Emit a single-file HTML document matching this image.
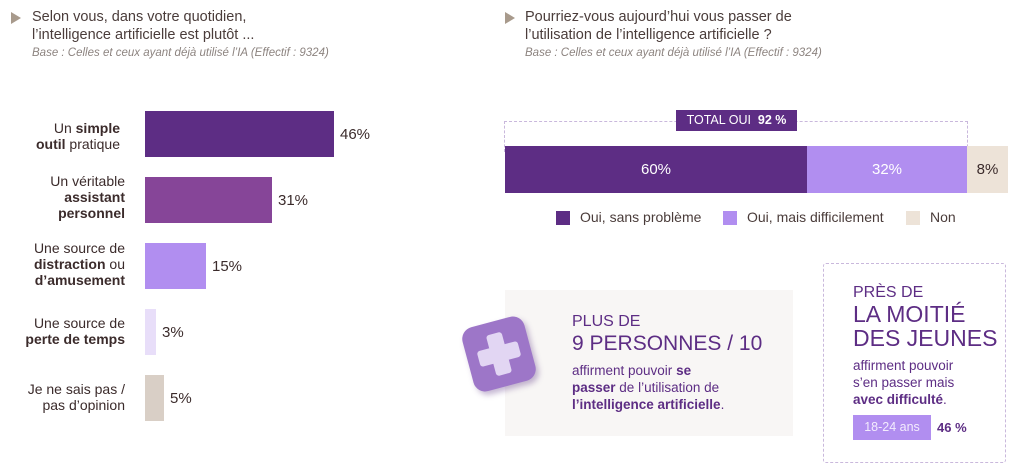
<!DOCTYPE html>
<html><head><meta charset="utf-8"><style>
body{margin:0;width:1024px;height:472px;background:#fff;position:relative;overflow:hidden;font-family:"Liberation Sans",sans-serif;color:#3b2b2b}
.a{position:absolute;white-space:nowrap}
.tri{position:absolute;width:0;height:0;border-left:10px solid #a89a8c;border-top:6px solid transparent;border-bottom:6px solid transparent}
.t{font-size:14.5px;color:#4a3c3a;line-height:18px}
.s{font-size:11.5px;color:#8d8480;font-style:italic}
.lab{font-size:14px;line-height:16px;text-align:right;right:904px;color:#3b2b2b}
.bar{position:absolute;left:145px;height:46px}
.pct{font-size:15px;color:#3b2b2b}
.pu{color:#5d2d84}
</style></head><body>
<div class="tri" style="left:11px;top:12px"></div>
<div class="a t" style="left:32px;top:8px">Selon vous, dans votre quotidien,<br>l’intelligence artificielle est plutôt ...</div>
<div class="a s" style="left:32px;top:47px">Base : Celles et ceux ayant déjà utilisé l’IA (Effectif : 9324)</div>

<div class="bar" style="top:111px;width:189px;background:#5d2d84"></div>
<div class="bar" style="top:177px;width:127px;background:#864598"></div>
<div class="bar" style="top:243px;width:61px;background:#b18ef0"></div>
<div class="bar" style="top:309px;width:11px;background:#e8def9"></div>
<div class="bar" style="top:375px;width:19px;background:#d9cfc6"></div>
<div class="a pct" style="left:340px;top:126px">46%</div>
<div class="a pct" style="left:278px;top:192px">31%</div>
<div class="a pct" style="left:212px;top:258px">15%</div>
<div class="a pct" style="left:162px;top:324px">3%</div>
<div class="a pct" style="left:170px;top:390px">5%</div>
<div class="a lab" style="top:120px">Un <b>simple</b><br><b>outil</b> pratique</div>
<div class="a lab" style="top:173px;right:899px">Un véritable<br><b>assistant</b><br><b>personnel</b></div>
<div class="a lab" style="top:240px;right:899px">Une source de<br><b>distraction</b> ou<br><b>d’amusement</b></div>
<div class="a lab" style="top:315px;right:899px">Une source de<br><b>perte de temps</b></div>
<div class="a lab" style="top:381px;right:899px">Je ne sais pas /<br>pas d’opinion</div>

<div class="tri" style="left:505px;top:12px"></div>
<div class="a t" style="left:525px;top:8px">Pourriez-vous aujourd’hui vous passer de<br>l’utilisation de l’intelligence artificielle ?</div>
<div class="a s" style="left:525px;top:47px">Base : Celles et ceux ayant déjà utilisé l’IA (Effectif : 9324)</div>

<div class="a" style="left:504px;top:121px;width:462px;height:30px;border:1px dashed #c9b8dc;border-bottom:none"></div>
<div class="a" style="left:676px;top:110px;width:121px;height:21px;background:#5d2d84;color:#fff;font-size:12.5px;line-height:21px;text-align:center">TOTAL OUI&nbsp; <b>92 %</b></div>
<div class="a" style="left:505px;top:146px;width:302px;height:47px;background:#5d2d84"></div>
<div class="a" style="left:807px;top:146px;width:160px;height:47px;background:#b18ef0"></div>
<div class="a" style="left:967px;top:146px;width:41px;height:47px;background:#ede3d8"></div>
<div class="a" style="left:505px;top:161px;width:302px;text-align:center;color:#fff;font-size:15px">60%</div>
<div class="a" style="left:807px;top:161px;width:160px;text-align:center;color:#fff;font-size:15px">32%</div>
<div class="a" style="left:967px;top:161px;width:41px;text-align:center;color:#3b2b2b;font-size:15px">8%</div>
<div class="a" style="left:556px;top:211px;width:14px;height:14px;background:#5d2d84"></div>
<div class="a" style="left:580px;top:209px;font-size:14px;color:#4a3c3a">Oui, sans problème</div>
<div class="a" style="left:723px;top:211px;width:14px;height:14px;background:#b18ef0"></div>
<div class="a" style="left:747px;top:209px;font-size:14px;color:#4a3c3a">Oui, mais difficilement</div>
<div class="a" style="left:906px;top:211px;width:14px;height:14px;background:#ede3d8"></div>
<div class="a" style="left:930px;top:209px;font-size:14px;color:#4a3c3a">Non</div>

<div class="a" style="left:505px;top:290px;width:288px;height:146px;background:#f8f6f5"></div>
<div class="a" style="left:467px;top:321px;width:64px;height:66px;background:#9d76c8;border-radius:12px;transform:rotate(-15deg);box-shadow:2px 4px 6px rgba(90,50,130,.35)"></div>
<div class="a" style="left:478px;top:333px;width:42px;height:42px;transform:rotate(-15deg)">
 <div class="a" style="left:13px;top:0;width:16px;height:42px;background:#e2d6f3;border-radius:3px"></div>
 <div class="a" style="left:0;top:13px;width:42px;height:16px;background:#e2d6f3;border-radius:3px"></div>
</div>
<div class="a pu" style="left:572px;top:313px;font-size:16px">PLUS DE</div>
<div class="a pu" style="left:572px;top:332px;font-size:21px">9 PERSONNES <span style="font-weight:300">/</span> 10</div>
<div class="a pu" style="left:572px;top:362px;font-size:13.5px;line-height:17px">affirment pouvoir <b>se</b><br><b>passer</b> de l’utilisation de<br><b>l’intelligence artificielle</b>.</div>

<div class="a" style="left:823px;top:263px;width:181px;height:198px;border:1px dashed #c9b8dc;border-radius:3px"></div>
<div class="a pu" style="left:853px;top:284px;font-size:16px">PRÈS DE</div>
<div class="a pu" style="left:853px;top:302px;font-size:23px;line-height:24px">LA MOITIÉ<br>DES JEUNES</div>
<div class="a pu" style="left:853px;top:357px;font-size:13.5px;line-height:17px">affirment pouvoir<br>s’en passer mais<br><b>avec difficulté</b>.</div>
<div class="a" style="left:853px;top:415px;width:78px;height:25px;background:#b18ef0;color:#f3ecfd;font-size:12.5px;line-height:25px;text-align:center">18-24 ans</div>
<div class="a pu" style="left:937px;top:420px;font-size:13px;font-weight:bold">46 %</div>
</body></html>
